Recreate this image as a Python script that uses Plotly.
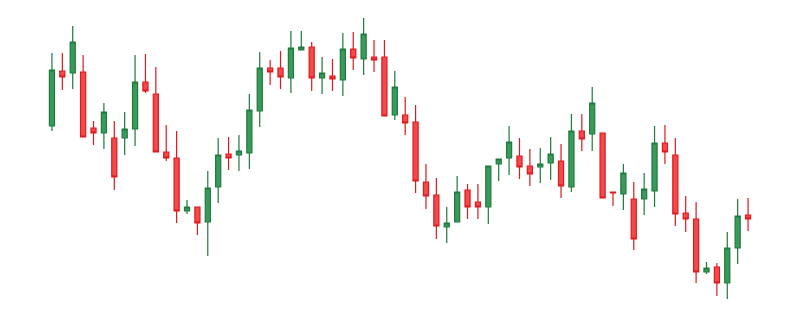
import plotly.graph_objects as go

idx = list(range(68))
opens = [194, 249, 247, 248, 192, 187, 182, 182, 191, 238, 226, 168, 162, 109, 113, 98, 133, 166, 165, 167,
         209, 252, 252, 242, 270, 273, 242, 244, 240, 271, 261, 263, 263, 205, 205, 198, 138, 125, 93, 98,
         130, 118, 113, 156, 162, 164, 154, 153, 157, 159, 133, 189, 186, 187, 128, 126, 121, 121, 129, 177,
         165, 107, 101, 48, 53, 37, 72, 105]
highs = [267, 267, 294, 265, 199, 217, 199, 208, 265, 266, 253, 195, 189, 120, 113, 149, 182, 183, 185, 226,
         268, 260, 269, 289, 289, 278, 263, 261, 287, 288, 302, 280, 280, 249, 223, 215, 156, 142, 113, 144,
         136, 136, 154, 161, 194, 182, 171, 172, 183, 176, 206, 206, 233, 187, 128, 156, 138, 147, 194, 195,
         182, 124, 118, 58, 57, 88, 121, 122]
lows = [189, 230, 231, 183, 175, 171, 130, 165, 174, 227, 168, 159, 97, 106, 85, 64, 117, 150, 149, 151,
        193, 235, 231, 227, 270, 229, 226, 229, 224, 250, 245, 248, 204, 200, 185, 127, 111, 81, 77, 98,
        101, 101, 96, 139, 145, 141, 134, 137, 140, 122, 128, 169, 169, 122, 114, 110, 70, 105, 113, 156,
        94, 88, 37, 46, 24, 21, 56, 89]
closes = [250, 243, 278, 183, 187, 208, 143, 191, 238, 229, 168, 162, 109, 113, 97, 132, 165, 162, 169, 210,
          252, 248, 243, 272, 273, 242, 247, 241, 271, 262, 286, 260, 204, 233, 197, 139, 124, 94, 97, 128,
          113, 113, 154, 161, 178, 153, 146, 156, 166, 134, 189, 181, 217, 122, 127, 147, 81, 131, 177, 168,
          106, 101, 48, 52, 37, 72, 104, 101]

fig = go.Figure(go.Candlestick(
    x=idx, open=opens, high=highs, low=lows, close=closes,
    increasing=dict(fillcolor="#3a9a5c", line=dict(color="#1e7a3e", width=1.2)),
    decreasing=dict(fillcolor="#f04a4a", line=dict(color="#e0191e", width=1.2)),
    whiskerwidth=0,
    hoverinfo="skip",
))
fig.update_layout(
    width=800, height=316,
    margin=dict(l=0, r=0, t=0, b=0),
    paper_bgcolor="white", plot_bgcolor="white",
    showlegend=False,
    xaxis=dict(range=[-5.0, 72.0], visible=False, rangeslider=dict(visible=False)),
    yaxis=dict(range=[4, 320], visible=False),
)
fig.write_html("out.html")
